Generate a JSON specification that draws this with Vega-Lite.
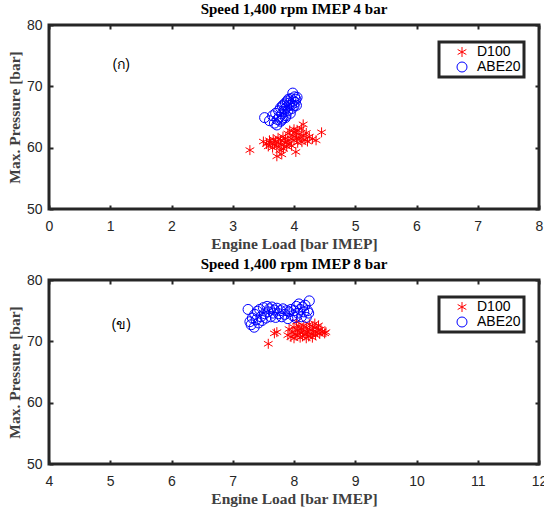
{
  "$schema": "https://vega.github.io/schema/vega-lite/v6.json",
  "padding": {"left": 5, "top": 0, "right": 0, "bottom": 0},
  "background": "white",
  "spacing": 2,
  "datasets": {
    "top": [
      {"fuel":"D100","load":3.28,"pmax":59.6},{"fuel":"D100","load":3.50,"pmax":61.0},{"fuel":"D100","load":3.55,"pmax":60.6},{"fuel":"D100","load":3.58,"pmax":60.2},{"fuel":"D100","load":3.60,"pmax":61.2},{"fuel":"D100","load":3.62,"pmax":60.8},{"fuel":"D100","load":3.65,"pmax":60.0},{"fuel":"D100","load":3.66,"pmax":61.4},{"fuel":"D100","load":3.68,"pmax":60.5},{"fuel":"D100","load":3.70,"pmax":61.0},{"fuel":"D100","load":3.72,"pmax":58.6},{"fuel":"D100","load":3.72,"pmax":60.2},{"fuel":"D100","load":3.74,"pmax":61.6},{"fuel":"D100","load":3.75,"pmax":60.7},{"fuel":"D100","load":3.77,"pmax":59.6},{"fuel":"D100","load":3.78,"pmax":61.2},{"fuel":"D100","load":3.80,"pmax":60.4},{"fuel":"D100","load":3.80,"pmax":58.9},{"fuel":"D100","load":3.82,"pmax":61.8},{"fuel":"D100","load":3.83,"pmax":59.8},{"fuel":"D100","load":3.85,"pmax":60.9},{"fuel":"D100","load":3.86,"pmax":61.5},{"fuel":"D100","load":3.88,"pmax":60.2},{"fuel":"D100","load":3.90,"pmax":62.3},{"fuel":"D100","load":3.90,"pmax":61.0},{"fuel":"D100","load":3.92,"pmax":60.6},{"fuel":"D100","load":3.93,"pmax":62.8},{"fuel":"D100","load":3.95,"pmax":61.5},{"fuel":"D100","load":3.96,"pmax":60.3},{"fuel":"D100","load":3.98,"pmax":62.0},{"fuel":"D100","load":4.00,"pmax":61.2},{"fuel":"D100","load":4.00,"pmax":63.0},{"fuel":"D100","load":4.02,"pmax":62.5},{"fuel":"D100","load":4.03,"pmax":59.3},{"fuel":"D100","load":4.04,"pmax":61.6},{"fuel":"D100","load":4.05,"pmax":62.9},{"fuel":"D100","load":4.06,"pmax":60.8},{"fuel":"D100","load":4.08,"pmax":62.2},{"fuel":"D100","load":4.10,"pmax":61.5},{"fuel":"D100","load":4.12,"pmax":63.1},{"fuel":"D100","load":4.13,"pmax":60.9},{"fuel":"D100","load":4.15,"pmax":63.8},{"fuel":"D100","load":4.15,"pmax":62.0},{"fuel":"D100","load":4.18,"pmax":61.3},{"fuel":"D100","load":4.20,"pmax":62.4},{"fuel":"D100","load":4.22,"pmax":61.0},{"fuel":"D100","load":4.25,"pmax":61.8},{"fuel":"D100","load":4.30,"pmax":61.4},{"fuel":"D100","load":4.36,"pmax":61.2},{"fuel":"D100","load":4.45,"pmax":62.5},
      {"fuel":"ABE20","load":3.52,"pmax":64.9},{"fuel":"ABE20","load":3.60,"pmax":64.4},{"fuel":"ABE20","load":3.65,"pmax":65.2},{"fuel":"ABE20","load":3.68,"pmax":64.0},{"fuel":"ABE20","load":3.70,"pmax":65.6},{"fuel":"ABE20","load":3.72,"pmax":63.7},{"fuel":"ABE20","load":3.73,"pmax":64.6},{"fuel":"ABE20","load":3.75,"pmax":66.0},{"fuel":"ABE20","load":3.76,"pmax":65.0},{"fuel":"ABE20","load":3.78,"pmax":64.3},{"fuel":"ABE20","load":3.78,"pmax":66.5},{"fuel":"ABE20","load":3.80,"pmax":65.5},{"fuel":"ABE20","load":3.81,"pmax":66.8},{"fuel":"ABE20","load":3.82,"pmax":64.8},{"fuel":"ABE20","load":3.83,"pmax":67.0},{"fuel":"ABE20","load":3.84,"pmax":65.9},{"fuel":"ABE20","load":3.85,"pmax":66.3},{"fuel":"ABE20","load":3.86,"pmax":67.3},{"fuel":"ABE20","load":3.87,"pmax":65.2},{"fuel":"ABE20","load":3.88,"pmax":66.6},{"fuel":"ABE20","load":3.89,"pmax":67.6},{"fuel":"ABE20","load":3.90,"pmax":66.0},{"fuel":"ABE20","load":3.91,"pmax":67.9},{"fuel":"ABE20","load":3.92,"pmax":66.9},{"fuel":"ABE20","load":3.93,"pmax":67.3},{"fuel":"ABE20","load":3.94,"pmax":65.6},{"fuel":"ABE20","load":3.95,"pmax":68.0},{"fuel":"ABE20","load":3.96,"pmax":67.0},{"fuel":"ABE20","load":3.97,"pmax":66.4},{"fuel":"ABE20","load":3.98,"pmax":68.9},{"fuel":"ABE20","load":3.99,"pmax":67.6},{"fuel":"ABE20","load":4.00,"pmax":66.8},{"fuel":"ABE20","load":4.01,"pmax":68.3},{"fuel":"ABE20","load":4.02,"pmax":67.4},{"fuel":"ABE20","load":4.03,"pmax":67.9},{"fuel":"ABE20","load":4.05,"pmax":68.2},{"fuel":"ABE20","load":4.04,"pmax":66.9},{"fuel":"ABE20","load":3.86,"pmax":64.9},{"fuel":"ABE20","load":3.80,"pmax":64.5}
    ],
    "bottom": [
      {"fuel":"D100","load":7.58,"pmax":69.6},{"fuel":"D100","load":7.68,"pmax":71.3},{"fuel":"D100","load":7.72,"pmax":71.5},{"fuel":"D100","load":7.90,"pmax":71.0},{"fuel":"D100","load":7.92,"pmax":72.0},{"fuel":"D100","load":7.95,"pmax":70.7},{"fuel":"D100","load":7.97,"pmax":71.5},{"fuel":"D100","load":8.00,"pmax":70.5},{"fuel":"D100","load":8.00,"pmax":72.3},{"fuel":"D100","load":8.02,"pmax":71.2},{"fuel":"D100","load":8.04,"pmax":73.2},{"fuel":"D100","load":8.05,"pmax":70.9},{"fuel":"D100","load":8.06,"pmax":71.8},{"fuel":"D100","load":8.08,"pmax":72.5},{"fuel":"D100","load":8.10,"pmax":70.6},{"fuel":"D100","load":8.10,"pmax":71.4},{"fuel":"D100","load":8.12,"pmax":72.0},{"fuel":"D100","load":8.14,"pmax":70.8},{"fuel":"D100","load":8.15,"pmax":71.6},{"fuel":"D100","load":8.16,"pmax":72.6},{"fuel":"D100","load":8.18,"pmax":71.1},{"fuel":"D100","load":8.20,"pmax":70.5},{"fuel":"D100","load":8.20,"pmax":72.2},{"fuel":"D100","load":8.22,"pmax":71.5},{"fuel":"D100","load":8.24,"pmax":70.8},{"fuel":"D100","load":8.25,"pmax":72.8},{"fuel":"D100","load":8.26,"pmax":71.9},{"fuel":"D100","load":8.28,"pmax":71.2},{"fuel":"D100","load":8.30,"pmax":70.6},{"fuel":"D100","load":8.30,"pmax":72.4},{"fuel":"D100","load":8.32,"pmax":71.6},{"fuel":"D100","load":8.34,"pmax":72.9},{"fuel":"D100","load":8.35,"pmax":71.0},{"fuel":"D100","load":8.36,"pmax":72.2},{"fuel":"D100","load":8.38,"pmax":71.5},{"fuel":"D100","load":8.40,"pmax":72.6},{"fuel":"D100","load":8.42,"pmax":71.2},{"fuel":"D100","load":8.44,"pmax":72.0},{"fuel":"D100","load":8.46,"pmax":71.6},{"fuel":"D100","load":8.50,"pmax":71.3},{"fuel":"D100","load":8.52,"pmax":71.5},
      {"fuel":"ABE20","load":7.25,"pmax":75.2},{"fuel":"ABE20","load":7.28,"pmax":73.2},{"fuel":"ABE20","load":7.30,"pmax":72.7},{"fuel":"ABE20","load":7.32,"pmax":73.8},{"fuel":"ABE20","load":7.35,"pmax":72.3},{"fuel":"ABE20","load":7.36,"pmax":74.4},{"fuel":"ABE20","load":7.38,"pmax":73.5},{"fuel":"ABE20","load":7.40,"pmax":74.9},{"fuel":"ABE20","load":7.42,"pmax":73.0},{"fuel":"ABE20","load":7.44,"pmax":75.2},{"fuel":"ABE20","load":7.46,"pmax":74.0},{"fuel":"ABE20","load":7.48,"pmax":73.4},{"fuel":"ABE20","load":7.50,"pmax":75.5},{"fuel":"ABE20","load":7.52,"pmax":74.5},{"fuel":"ABE20","load":7.54,"pmax":73.8},{"fuel":"ABE20","load":7.56,"pmax":75.7},{"fuel":"ABE20","load":7.58,"pmax":74.8},{"fuel":"ABE20","load":7.60,"pmax":75.3},{"fuel":"ABE20","load":7.62,"pmax":74.0},{"fuel":"ABE20","load":7.64,"pmax":75.6},{"fuel":"ABE20","load":7.66,"pmax":74.6},{"fuel":"ABE20","load":7.68,"pmax":75.1},{"fuel":"ABE20","load":7.70,"pmax":73.9},{"fuel":"ABE20","load":7.72,"pmax":75.4},{"fuel":"ABE20","load":7.75,"pmax":74.5},{"fuel":"ABE20","load":7.78,"pmax":75.0},{"fuel":"ABE20","load":7.80,"pmax":74.0},{"fuel":"ABE20","load":7.82,"pmax":75.3},{"fuel":"ABE20","load":7.85,"pmax":74.4},{"fuel":"ABE20","load":7.88,"pmax":75.0},{"fuel":"ABE20","load":7.90,"pmax":73.7},{"fuel":"ABE20","load":7.92,"pmax":74.8},{"fuel":"ABE20","load":7.95,"pmax":75.2},{"fuel":"ABE20","load":7.98,"pmax":74.2},{"fuel":"ABE20","load":8.00,"pmax":75.0},{"fuel":"ABE20","load":8.02,"pmax":73.9},{"fuel":"ABE20","load":8.04,"pmax":75.7},{"fuel":"ABE20","load":8.06,"pmax":74.6},{"fuel":"ABE20","load":8.08,"pmax":76.1},{"fuel":"ABE20","load":8.10,"pmax":75.2},{"fuel":"ABE20","load":8.12,"pmax":74.0},{"fuel":"ABE20","load":8.14,"pmax":75.6},{"fuel":"ABE20","load":8.16,"pmax":74.8},{"fuel":"ABE20","load":8.18,"pmax":75.9},{"fuel":"ABE20","load":8.20,"pmax":73.9},{"fuel":"ABE20","load":8.22,"pmax":75.0},{"fuel":"ABE20","load":8.25,"pmax":76.6},{"fuel":"ABE20","load":8.24,"pmax":74.6}
    ]
  },
  "resolve": {"scale": {"color": "independent", "shape": "independent"}, "legend": {"color": "independent", "shape": "independent"}},
  "vconcat": [
    {
      "width": 490, "height": 184,
      "title": "Speed 1,400 rpm IMEP 4 bar",
      "resolve": {"axis": {"x": "independent", "y": "independent"}},
      "layer": [
        {
          "data": {"name": "top"},
          "mark": {"type": "point", "filled": false, "strokeWidth": 1, "opacity": 1, "size": 100},
          "encoding": {
            "x": {"field": "load", "type": "quantitative", "scale": {"domain": [0, 8], "nice": false}, "axis": {"title": "Engine Load [bar IMEP]", "values": [0,1,2,3,4,5,6,7,8], "format": "d"}},
            "y": {"field": "pmax", "type": "quantitative", "scale": {"domain": [50, 80], "nice": false, "zero": false}, "axis": {"title": "Max. Pressure [bar]", "values": [50,60,70,80], "format": "d"}},
            "color": {"field": "fuel", "type": "nominal", "scale": {"domain": ["D100", "ABE20"], "range": ["#ff0000", "#0000ff"]}, "legend": {"title": null}},
            "shape": {"field": "fuel", "type": "nominal", "scale": {"domain": ["D100", "ABE20"], "range": ["M0,-1L0,1M-0.87,-0.5L0.87,0.5M-0.87,0.5L0.87,-0.5", "circle"]}, "legend": {"title": null}}
          }
        },
        {
          "data": {"values": [{"lx": 1.18, "ly": 73.4, "t": "(ก)"}]},
          "mark": {"type": "text", "font": "Liberation Sans", "fontSize": 14, "color": "#000"},
          "encoding": {
            "x": {"field": "lx", "type": "quantitative", "axis": {"orient": "top", "labels": false, "title": null, "values": [0,1,2,3,4,5,6,7,8]}},
            "y": {"field": "ly", "type": "quantitative", "axis": {"orient": "right", "labels": false, "title": null, "values": [50,60,70,80]}},
            "text": {"field": "t"}
          }
        }
      ]
    },
    {
      "width": 490, "height": 184,
      "title": "Speed 1,400 rpm IMEP 8 bar",
      "resolve": {"axis": {"x": "independent", "y": "independent"}},
      "layer": [
        {
          "data": {"name": "bottom"},
          "mark": {"type": "point", "filled": false, "strokeWidth": 1, "opacity": 1, "size": 100},
          "encoding": {
            "x": {"field": "load", "type": "quantitative", "scale": {"domain": [4, 12], "nice": false, "zero": false}, "axis": {"title": "Engine Load [bar IMEP]", "values": [4,5,6,7,8,9,10,11,12], "format": "d"}},
            "y": {"field": "pmax", "type": "quantitative", "scale": {"domain": [50, 80], "nice": false, "zero": false}, "axis": {"title": "Max. Pressure [bar]", "values": [50,60,70,80], "format": "d"}},
            "color": {"field": "fuel", "type": "nominal", "scale": {"domain": ["D100", "ABE20"], "range": ["#ff0000", "#0000ff"]}, "legend": {"title": null}},
            "shape": {"field": "fuel", "type": "nominal", "scale": {"domain": ["D100", "ABE20"], "range": ["M0,-1L0,1M-0.87,-0.5L0.87,0.5M-0.87,0.5L0.87,-0.5", "circle"]}, "legend": {"title": null}}
          }
        },
        {
          "data": {"values": [{"lx": 5.18, "ly": 72.7, "t": "(ข)"}]},
          "mark": {"type": "text", "font": "Liberation Sans", "fontSize": 14, "color": "#000"},
          "encoding": {
            "x": {"field": "lx", "type": "quantitative", "axis": {"orient": "top", "labels": false, "title": null, "values": [4,5,6,7,8,9,10,11,12]}},
            "y": {"field": "ly", "type": "quantitative", "axis": {"orient": "right", "labels": false, "title": null, "values": [50,60,70,80]}},
            "text": {"field": "t"}
          }
        }
      ]
    }
  ],
  "config": {
    "font": "Liberation Sans",
    "view": {"stroke": "#262626", "strokeWidth": 3},
    "axis": {"grid": false, "domain": false, "tickSize": -4, "tickColor": "#262626", "tickWidth": 2, "labelFont": "Liberation Sans", "labelFontSize": 14, "labelColor": "#262626", "labelPadding": 14, "titleFont": "Liberation Serif", "titleFontSize": 15.5, "titleFontWeight": "bold", "titleColor": "#404040", "titlePadding": 3, "labelFlush": false},
    "axisY": {"labelPadding": 11, "titlePadding": 4},
    "title": {"font": "Liberation Serif", "fontSize": 15, "fontWeight": "bold", "color": "#000", "offset": 1},
    "legend": {"orient": "none", "legendX": 390, "legendY": 17, "strokeColor": "#262626", "strokeWidth": 3, "fillColor": "white", "padding": 3, "labelFont": "Liberation Sans", "labelFontSize": 14, "labelColor": "#000", "labelOffset": 8, "symbolSize": 100, "symbolStrokeWidth": 1, "rowPadding": 1, "symbolOffset": 13}
  }
}
